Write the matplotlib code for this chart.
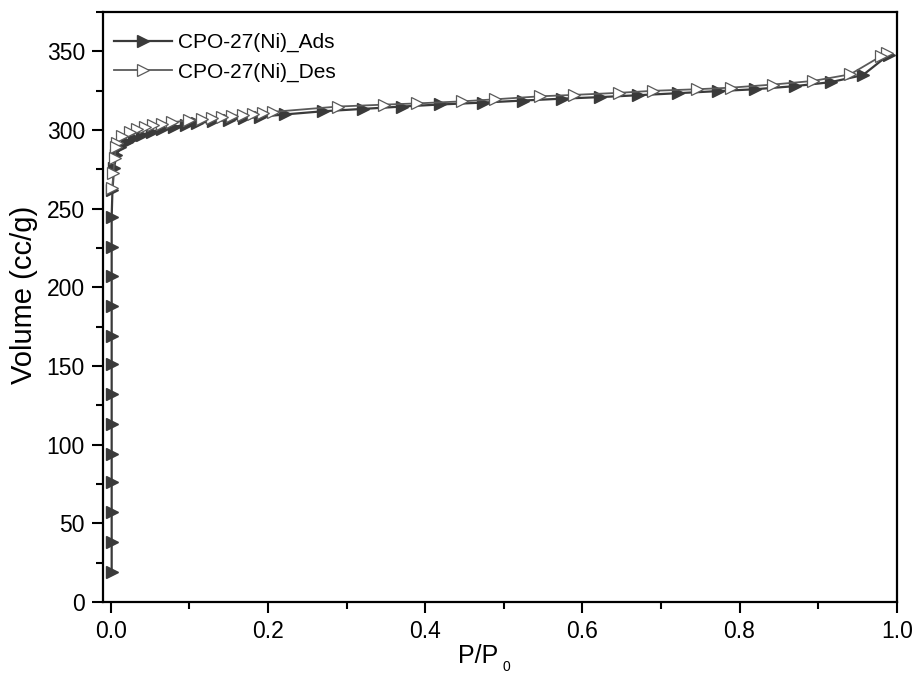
import matplotlib
matplotlib.use("Agg")
import matplotlib.pyplot as plt
from matplotlib.ticker import MultipleLocator

plt.rcParams['font.family'] = ['Liberation Sans', 'DejaVu Sans']

# adsorption branch
ads_p = [0.001, 0.001, 0.001, 0.001, 0.001, 0.001, 0.001, 0.001, 0.001, 0.001,
         0.001, 0.001, 0.001, 0.002, 0.004, 0.007, 0.012, 0.020, 0.030, 0.040,
         0.052, 0.065, 0.080, 0.095, 0.110, 0.130, 0.150, 0.170, 0.190, 0.222,
         0.270, 0.321, 0.371, 0.419, 0.473, 0.524, 0.574, 0.623, 0.671, 0.722,
         0.772, 0.820, 0.871, 0.916, 0.957, 0.990]
ads_v = [19, 38, 57, 76, 94, 113, 132, 151, 169, 188,
         207, 226, 245, 262, 276, 284, 289, 292.5, 295, 297,
         299, 300.5, 302, 303.5, 304.5, 305.5, 306.5, 307.5, 308.5, 310,
         312, 313.5, 315, 316.3, 317.5, 318.8, 320, 321, 322.2, 323.5,
         324.8, 326, 328, 330.5, 335, 348]

# desorption branch
des_p = [0.988, 0.980, 0.941, 0.894, 0.843, 0.789, 0.746, 0.690, 0.646, 0.589,
         0.546, 0.489, 0.447, 0.390, 0.347, 0.289, 0.206, 0.194, 0.181, 0.168,
         0.154, 0.141, 0.129, 0.116, 0.100, 0.078, 0.065, 0.054, 0.043, 0.033,
         0.024, 0.014, 0.008, 0.006, 0.005, 0.003, 0.002]
des_v = [349, 347, 335.5, 331.3, 329, 327, 326, 325, 323.7, 322.4,
         321.5, 319.6, 318.3, 317, 316.2, 315, 311.6, 311, 310.5, 309.7,
         309, 308.4, 307.8, 307, 306.3, 305, 304, 303, 302, 300.5,
         299, 296.5, 292, 289, 282, 273, 263]

fig = plt.figure(figsize=(9.15, 6.76), dpi=100)
ax = fig.add_axes([0.1126, 0.1095, 0.8674, 0.8725])

ax.plot(ads_p, ads_v, color='#3a3a3a', lw=1.6, marker='>', ms=8,
        mfc='#3a3a3a', mec='#3a3a3a', label='CPO-27(Ni)_Ads')
ax.plot(des_p, des_v, color='#5a5a5a', lw=1.3, marker='>', ms=8,
        mfc='white', mec='#5a5a5a', mew=0.9, label='CPO-27(Ni)_Des')

ax.set_xlim(-0.01, 1.0)
ax.set_ylim(0, 375)
ax.xaxis.set_major_locator(MultipleLocator(0.2))
ax.xaxis.set_minor_locator(MultipleLocator(0.1))
ax.yaxis.set_major_locator(MultipleLocator(50))
ax.yaxis.set_minor_locator(MultipleLocator(25))
ax.tick_params(which='both', direction='out', top=False, right=False,
               labelsize=16.5, width=1.5)
ax.tick_params(which='major', length=8, pad=5)
ax.tick_params(which='minor', length=5)
for s in ax.spines.values():
    s.set_linewidth(1.6)

# x label: "P/P" with a small, low subscript 0
ax.text(0.472, -0.072, 'P/P', transform=ax.transAxes, fontsize=18,
        ha='center', va='top')
ax.text(0.503, -0.098, '0', transform=ax.transAxes, fontsize=10,
        ha='left', va='top')
ax.set_ylabel('Volume (cc/g)', fontsize=21)
ax.yaxis.set_label_coords(-0.082, 0.52)

ax.legend(loc='upper left', frameon=False, fontsize=15, handlelength=2.8,
          handletextpad=0.3, labelspacing=0.5, borderaxespad=0.6,
          bbox_to_anchor=(-0.013, 1.0))

fig.savefig('out.png', dpi=100)
